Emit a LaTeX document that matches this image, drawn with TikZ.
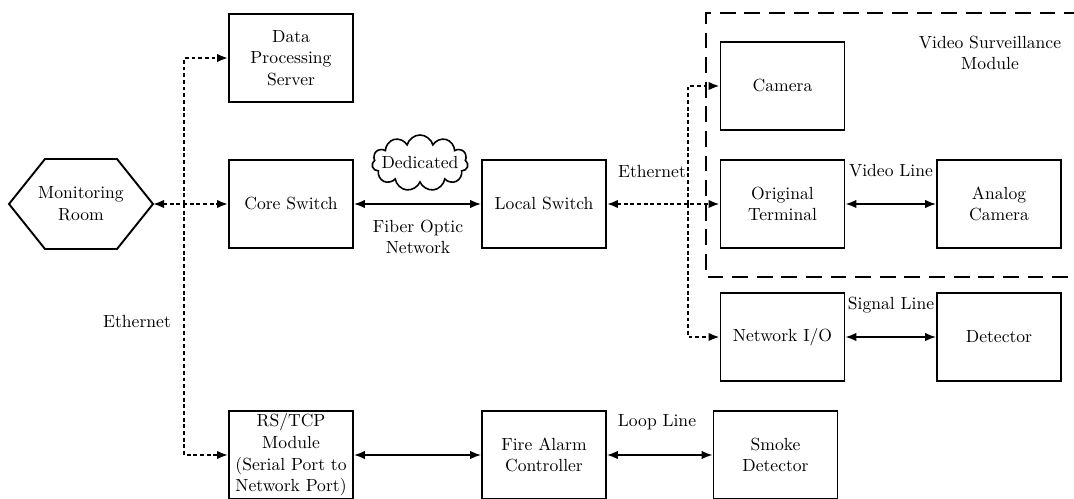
\documentclass[tikz,border=0pt]{standalone}
\usetikzlibrary{arrows.meta, positioning, shapes.symbols}

\begin{document}
\begin{tikzpicture}[
                font=\rmfamily\fontsize{10}{12.3}\selectfont,
                >={Latex[length=2.2mm, width=1.7mm]},
                unit_box/.style={rectangle, draw, line width=1.1pt, align=center, minimum width=2.48cm, minimum height=1.76cm, inner sep=1pt},
                wire/.style={<->, line width=0.9pt},
                eth_wire/.style={line width=1.1pt, dash pattern=on 2.2pt off 1.6pt},
                tag/.style={align=center, inner sep=1pt}
            ]
                \useasboundingbox (0, 0) rectangle (21.48, 9.96);

                \node[tag] (room) at (1.62, 5.88) {Monitoring\\Room};
                \draw[line width=1.1pt] (room.center) +(-1.44, 0) -- +(-0.72, 0.9) -- +(0.72, 0.9) -- +(1.44, 0) -- +(0.72, -0.9) -- +(-0.72, -0.9) -- cycle;
                \path (room.center) ++(1.44, 0) coordinate (room_tip);

                \node[unit_box] (server) at (5.82, 8.80) {Data\\Processing\\Server};
                \node[unit_box] (core) at (5.82, 5.88) {Core Switch};
                \node[unit_box] (local) at (10.88, 5.88) {Local Switch};
                \node[unit_box] (rstcp) at (5.82, 0.86) {RS/TCP\\Module\\(Serial Port to\\Network Port)};
                \node[unit_box] (fire) at (10.88, 0.86) {Fire Alarm\\Controller};
                \node[unit_box] (smoke) at (15.51, 0.86) {Smoke\\Detector};

                \node[unit_box] (camera) at (15.65, 8.24) {Camera};
                \node[unit_box] (terminal) at (15.65, 5.88) {Original\\Terminal};
                \node[unit_box] (analog) at (19.98, 5.88) {Analog\\Camera};
                \node[unit_box] (netio) at (15.65, 3.22) {Network I/O};
                \node[unit_box] (detector) at (19.98, 3.22) {Detector};

                \draw[line width=1.1pt, dash pattern=on 9pt off 5pt] (21.6, 9.70) -- (14.12, 9.70) -- (14.12, 4.42) -- (21.6, 4.42);
                \node[tag] (module) at (19.80, 8.90) {Video Surveillance\\Module};

                \node[cloud, draw, line width=0.9pt, cloud puffs=11, cloud ignores aspect, minimum width=1.92cm, minimum height=1.12cm, inner sep=0pt, label=center:Dedicated] (cloud) at (8.40, 6.70) {};

                \coordinate (left_bus) at (3.68, 5.88);
                \coordinate (right_bus) at (13.76, 5.88);

                \draw[eth_wire, <->] (room_tip) -- (core.west);
                \draw[eth_wire, ->] (left_bus) |- (server.west);
                \draw[eth_wire, ->] (left_bus) |- (rstcp.west);
                \draw[eth_wire, <->] (local.east) -- (terminal.west);
                \draw[eth_wire, ->] (right_bus) |- (camera.west);
                \draw[eth_wire, ->] (right_bus) |- (netio.west);

                \draw[wire] (core.east) -- (local.west);
                \draw[wire] (terminal.east) -- (analog.west);
                \draw[wire] (netio.east) -- (detector.west);
                \draw[wire] (rstcp.east) -- (fire.west);
                \draw[wire] (fire.east) -- (smoke.west);

                \node[tag] (fiber) at (8.36, 5.22) {Fiber Optic\\Network};
                \node[tag] (eth_right) at (13.04, 6.52) {Ethernet};
                \node[tag] (eth_left) at (2.74, 3.52) {Ethernet};
                \node[tag] (video_line) at (17.82, 6.54) {Video Line};
                \node[tag] (signal_line) at (17.82, 3.86) {Signal Line};
                \node[tag] (loop_line) at (13.14, 1.52) {Loop Line};
            \end{tikzpicture}
\end{document}
